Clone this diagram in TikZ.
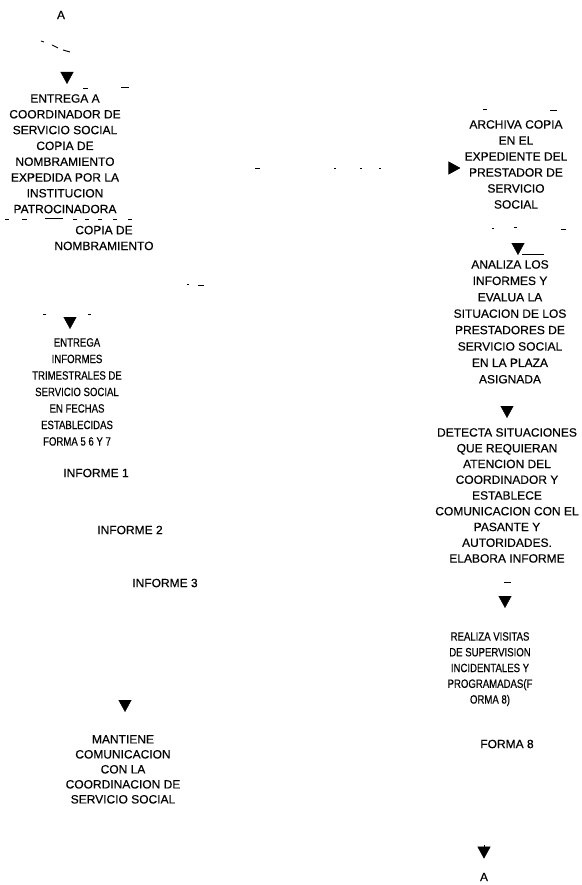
\documentclass[tikz,border=0pt]{standalone}
\usepackage{fontspec}
\setmainfont{Liberation Sans}[FakeBold=0.4]
\usetikzlibrary{arrows.meta}
\tikzset{
  txt/.style={font=\fontsize{12}{15.8}\selectfont, align=center, inner sep=0pt},
  narrow/.style={font=\fontsize{12}{#1}\selectfont\addfontfeature{FakeStretch=0.8}},
  arr/.style={-{Triangle[width=13pt,length=12pt]}, line width=0.4pt},
  frag/.style={line width=0.9pt, black},
  fragb/.style={line width=1.6pt, black},
  sparse/.style={line width=0.9pt, dash pattern=on 0pt off 120pt on 5pt off 74pt on 2pt off 24pt on 2pt off 17pt on 2pt off 200pt}
}
\begin{document}
\begin{tikzpicture}[x=1pt,y=-1pt]
\useasboundingbox (0,0) rectangle (581,885);

% ---------------- left column ----------------
\node[txt] (A1) at (61,15) {A};
\draw[frag] (41,41) -- (44,42);
\draw[frag] (52,45) -- (58,48);
\draw[frag] (63,50) -- (70,52);

\coordinate (a1) at (67,72);
\node[txt, anchor=north] (b1) at (65,94) {ENTREGA A\\COORDINADOR DE\\SERVICIO SOCIAL\\COPIA DE\\NOMBRAMIENTO\\EXPEDIDA POR LA\\INSTITUCION\\PATROCINADORA};
\draw[arr, shorten >=10pt] (a1) -- (a1 |- b1.north);
\draw[frag] (83,88) -- (88,88);
\draw[frag] (121,87) -- (129,87);
\draw[frag] (5,219) -- (9,219);
\draw[frag] (22,219) -- (27,219);
\draw[fragb] (45,218.5) -- (63,218.5);
\draw[frag] (73,219) -- (77,219);
\draw[frag] (85,219) -- (89,219);
\draw[frag] (98,219) -- (102,219);
\draw[frag] (113,219) -- (117,219);
\draw[frag] (128,219) -- (132,219);

\node[txt] (doc1) at (104,238) {COPIA DE\\NOMBRAMIENTO};

\draw[frag] (187,284) -- (189,284);
\draw[frag] (198,285) -- (204,285);
\draw[frag] (43,314) -- (46,314);
\draw[frag] (88,314) -- (91,314);

\coordinate (a2) at (70,317);
\node[txt, anchor=north, narrow=16.5] (b2) at (77,338) {ENTREGA\\INFORMES\\TRIMESTRALES DE\\SERVICIO SOCIAL\\EN FECHAS\\ESTABLECIDAS\\FORMA 5 6 Y 7};
\draw[arr, shorten >=9pt] (a2) -- (a2 |- b2.north);

\node[txt] (inf1) at (96,473) {INFORME 1};
\node[txt] (inf2) at (130,530) {INFORME 2};
\node[txt] (inf3) at (165,583) {INFORME 3};

\coordinate (a3) at (125,700);
\node[txt, anchor=north, font=\fontsize{12}{15}\selectfont] (b3) at (123,735) {MANTIENE\\COMUNICACION\\CON LA\\COORDINACION DE\\SERVICIO SOCIAL};
\draw[arr, shorten >=23pt] (a3) -- (a3 |- b3.north);

% ---------------- right column ----------------
\node[txt, anchor=north, font=\fontsize{12}{16}\selectfont] (r1) at (516,120) {ARCHIVA COPIA\\EN EL\\EXPEDIENTE DEL\\PRESTADOR DE\\SERVICIO\\SOCIAL};
\draw[frag] (483,109) -- (487,109);
\draw[frag] (550,110) -- (557,110);
\draw[frag] (492,228) -- (494,228);
\draw[frag] (514,227) -- (517,227);
\draw[frag] (561,229) -- (566,229);

\coordinate (c1) at (135,168);
\draw[arr, sparse, shorten >=4pt] (c1) -- (c1 -| r1.west);

\coordinate (a4) at (518,243);
\node[txt, anchor=north, font=\fontsize{12}{16.4}\selectfont] (r2) at (510,260) {ANALIZA LOS\\INFORMES Y\\EVALUA LA\\SITUACION DE LOS\\PRESTADORES DE\\SERVICIO SOCIAL\\EN LA PLAZA\\ASIGNADA};
\draw[arr, shorten >=5pt] (a4) -- (a4 |- r2.north);
\draw[frag] (522,254) -- (544,254);

\coordinate (a5) at (507,406);
\node[txt, anchor=north, font=\fontsize{12}{15.75}\selectfont] (r3) at (507,428) {DETECTA SITUACIONES\\QUE REQUIERAN\\ATENCION DEL\\COORDINADOR Y\\ESTABLECE\\COMUNICACION CON EL\\PASANTE Y\\AUTORIDADES.\\ELABORA INFORME};
\draw[arr, shorten >=10pt] (a5) -- (a5 |- r3.north);

\draw[frag] (504,582) -- (511,582);
\coordinate (a6) at (505,596);
\node[txt, anchor=north, narrow=15.75] (r4) at (490,632) {REALIZA VISITAS\\DE SUPERVISION\\INCIDENTALES Y\\PROGRAMADAS(F\\ORMA 8)};
\draw[arr, shorten >=24pt] (a6) -- (a6 |- r4.north);

\node[txt] (f8) at (507,744) {FORMA 8};

\coordinate (a7) at (484,845);
\node[txt] (A2) at (484,877) {A};
\draw[arr, shorten >=14pt] (a7) -- (a7 |- A2.north);
\end{tikzpicture}
\end{document}
